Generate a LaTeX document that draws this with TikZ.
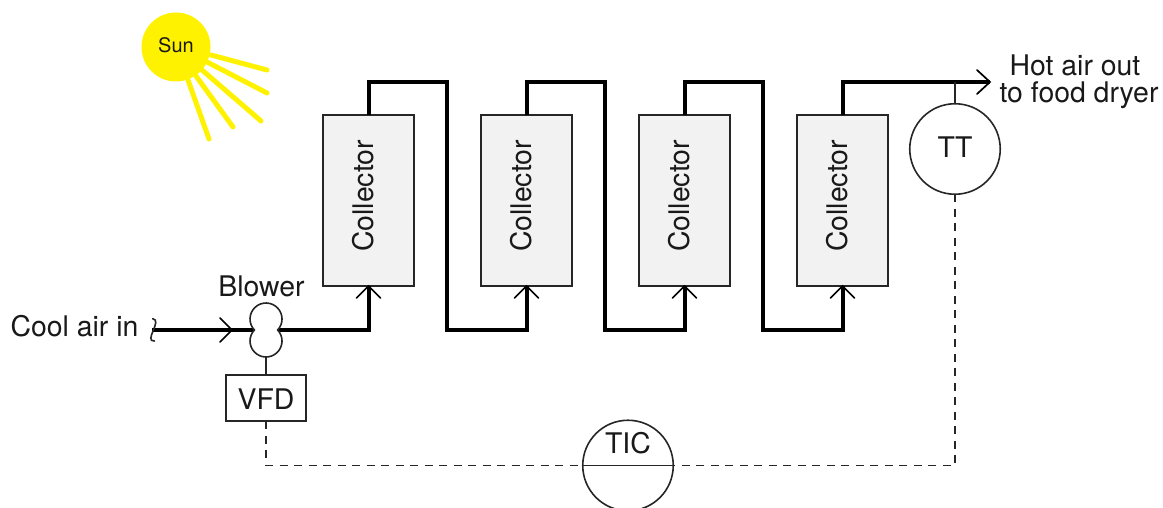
\documentclass[tikz,border=0pt]{standalone}
\usepackage{fontspec}
\setmainfont{TeX Gyre Heros}
\tikzset{
  every node/.style={inner sep=0pt,outer sep=0pt},
  lbl/.style={font=\fontsize{28.4}{32}\selectfont,text=black!90,anchor=base},
  thinline/.style={line width=1.6pt,draw=black!85},
  pipe/.style={line width=4pt,draw=black,line join=miter},
  signal/.style={line width=1.6pt,draw=black!85,dash pattern=on 8pt off 6.5pt},
  collector/.style={thinline,fill=black!5,minimum width=91pt,minimum height=171pt},
  instr/.style={thinline,circle,fill=white,minimum size=90.5pt},
  ray/.style={line width=5pt,draw=yellow,line cap=round},
  wing/.style={line width=1.7pt,draw=black,line cap=round}
}
\begin{document}
\begin{tikzpicture}[x=1pt,y=1pt]
\useasboundingbox (0,0) rectangle (1163,-508);

% sun
\draw[ray] (211,-55) -- (267,-70);
\draw[ray] (207,-62) -- (267,-93);
\draw[ray] (202,-70) -- (261,-121);
\draw[ray] (196,-76) -- (233,-127);
\draw[ray] (188,-80) -- (209,-139);
\node[circle,fill=yellow,minimum size=69pt] (sun) at (176,-47) {};
\node[lbl,font=\fontsize{20}{24}\selectfont] (sunt) at (176,-53) {Sun};

% collectors
\node[collector] (c1) at (368.5,-200.5) {};
\node[collector] (c2) at (526.5,-200.5) {};
\node[collector] (c3) at (684.5,-200.5) {};
\node[collector] (c4) at (842.5,-200.5) {};
\foreach \n/\x in {1/373,2/531,3/689,4/847}
  \node[lbl,rotate=90] (ct\n) at (\x,-196) {Collector};

% pipe corner points
\coordinate (in) at (152,-330);
\coordinate (blL) at (256,-330);
\coordinate (blR) at (277,-330);
\coordinate (t1) at (447,-82);
\coordinate (b1) at (447,-330);
\coordinate (t2) at (605,-82);
\coordinate (b2) at (605,-330);
\coordinate (t3) at (763,-82);
\coordinate (b3) at (763,-330);
\coordinate (out) at (990,-82);
\coordinate (ttap) at (955,-82);

% pipes
\draw[pipe] (in) -- (blL);
\draw[pipe] (blR) -| (c1.south);
\draw[pipe] (c1.north) |- (t1) -- (b1) -| (c2.south);
\draw[pipe] (c2.north) |- (t2) -- (b2) -| (c3.south);
\draw[pipe] (c3.north) |- (t3) -- (b3) -| (c4.south);
\draw[pipe] (c4.north) |- (out);

% open arrowheads
\coordinate (a0) at (232,-330);
\draw[wing] (220,-318) -- (a0) -- (220,-342);
\draw[wing] (977,-70) -- (out) -- (977,-94);
\foreach \c in {c1,c2,c3,c4}
  \draw[wing] (\c.south) ++(-12,-12) -- (\c.south) -- ++(12,-12);

% inlet break mark
\draw[thinline,line cap=round] (152.7,-318.7) .. controls (163,-320) and (143,-342) .. (154.5,-341);
\node[lbl] (cool) at (74.5,-336) {Cool air in};

% blower
\draw[thinline,fill=white] (254.4,-330) arc[start angle=223.4,end angle=-43.4,radius=16]
  arc[start angle=43.4,end angle=-223.4,radius=16] -- cycle;
\coordinate (blB) at (266,-357);
\node[lbl] (blower) at (261.5,-296) {Blower};

% VFD
\node[thinline,draw,fill=white,minimum width=80pt,minimum height=46pt] (vfd) at (266,-398) {};
\node[lbl] (vfdt) at (266,-409) {VFD};
\draw[thinline] (blB) -- (vfd.north);

% instruments
\node[instr,draw] (tt) at (955,-149) {};
\node[lbl] (ttt) at (955,-158) {TT};
\draw[thinline] (ttap) -- (tt.north);
\node[instr,draw] (tic) at (628,-465.5) {};
\node[lbl] (tict) at (628,-453) {TIC};
\draw[thinline] (tic.west) -- (tic.east);

% signals
\coordinate (s1) at (266,-465.5);
\coordinate (s2) at (955,-465.5);
\draw[signal] (vfd.south) -- (s1) -- (tic.west);
\draw[signal] (tt.south) -- (s2) -- (tic.east);

% outlet text
\node[lbl] (hot) at (1075,-76) {Hot air out};
\node[lbl] (dry) at (1079,-103) {to food dryer};
\end{tikzpicture}
\end{document}
